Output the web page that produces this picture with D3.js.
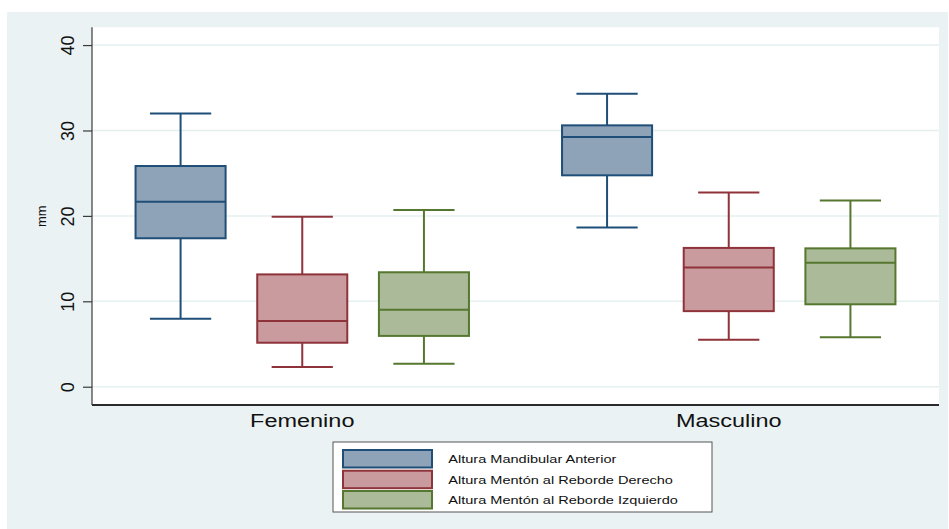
<!DOCTYPE html>
<html>
<head>
<meta charset="utf-8">
<script src="https://cdn.jsdelivr.net/npm/d3@7"></script>
<style>
  html, body { margin: 0; padding: 0; background: #ffffff; }
  svg { display: block; font-family: "Liberation Sans", Arial, Helvetica, sans-serif; }
</style>
</head>
<body>
<svg id="chart" width="949" height="529"></svg>
<script>
// Groups on the x axis
const groups = ["Femenino", "Masculino"];

// Series (one box per series within each group)
const seriesNames = [
  "Altura Mandibular Anterior",
  "Altura Mentón al Reborde Derecho",
  "Altura Mentón al Reborde Izquierdo"
];

// Box statistics per group: [lower whisker, Q1, median, Q3, upper whisker] in mm
const mandibularAnterior = [
  [7.96, 17.38, 21.66, 25.84, 32.0],
  [18.65, 24.75, 29.25, 30.6, 34.3]
];
const rebordeDerecho = [
  [2.3, 5.15, 7.7, 13.15, 19.9],
  [5.5, 8.85, 13.95, 16.25, 22.75]
];
const rebordeIzquierdo = [
  [2.7, 5.95, 9.0, 13.4, 20.7],
  [5.8, 9.65, 14.5, 16.2, 21.8]
];

const yTicks = [0, 10, 20, 30, 40];
const yLabel = "mm";

const seriesValues = [mandibularAnterior, rebordeDerecho, rebordeIzquierdo];
const strokeColors = ["#1f4e78", "#8f333b", "#56772f"];
const fillColors = ["#8ea3b7", "#c99a9e", "#abba98"];

const svg = d3.select("#chart");
const W = 949, H = 529;

// Page background
svg.append("rect").attr("x", 7).attr("y", 12).attr("width", W - 8).attr("height", H - 12)
  .attr("fill", "#eaf2f3");

const plot = { left: 92, right: 939, top: 27.3, bottom: 405 };

// Plot region
svg.append("rect")
  .attr("x", plot.left).attr("y", plot.top)
  .attr("width", plot.right - plot.left).attr("height", plot.bottom - plot.top)
  .attr("fill", "#ffffff");

const y = d3.scaleLinear().domain([-2.14, 42.08]).range([plot.bottom, plot.top]);
const x0 = d3.scalePoint().domain(groups).range([plot.left, plot.right]).padding(0.493);
const x1 = d3.scaleBand().domain(seriesNames).range([-166.7, 166.7]).paddingInner(0.26).paddingOuter(0);

// Grid lines
svg.append("g").selectAll("line").data(yTicks).join("line")
  .attr("x1", plot.left).attr("x2", plot.right)
  .attr("y1", d => y(d)).attr("y2", d => y(d))
  .attr("stroke", "#e6eff0").attr("stroke-width", 1.5);

// Boxes
const boxW = x1.bandwidth();
const capW = boxW * 0.68;
seriesNames.forEach((name, si) => {
  const g = svg.append("g");
  groups.forEach((grp, gi) => {
    const [lo, q1, med, q3, hi] = seriesValues[si][gi];
    const cx = x0(grp) + x1(name) + boxW / 2;
    const col = strokeColors[si];
    // whiskers
    g.append("line").attr("x1", cx).attr("x2", cx).attr("y1", y(q3)).attr("y2", y(hi))
      .attr("stroke", col).attr("stroke-width", 2);
    g.append("line").attr("x1", cx).attr("x2", cx).attr("y1", y(q1)).attr("y2", y(lo))
      .attr("stroke", col).attr("stroke-width", 2);
    // caps
    [lo, hi].forEach(v => {
      g.append("line").attr("x1", cx - capW / 2).attr("x2", cx + capW / 2)
        .attr("y1", y(v)).attr("y2", y(v))
        .attr("stroke", col).attr("stroke-width", 2);
    });
    // box
    g.append("rect").attr("x", cx - boxW / 2).attr("y", y(q3))
      .attr("width", boxW).attr("height", y(q1) - y(q3))
      .attr("fill", fillColors[si]).attr("stroke", col).attr("stroke-width", 2);
    // median
    g.append("line").attr("x1", cx - boxW / 2).attr("x2", cx + boxW / 2)
      .attr("y1", y(med)).attr("y2", y(med))
      .attr("stroke", col).attr("stroke-width", 2);
  });
});

// Y axis
const yAxis = svg.append("g").attr("transform", `translate(${plot.left},0)`)
  .call(d3.axisLeft(y).tickValues(yTicks).tickSize(9).tickFormat(d3.format("d")));
yAxis.select(".domain").attr("stroke", "#3a3a3a").attr("stroke-width", 1.2)
  .attr("d", `M0,${plot.top}V${plot.bottom}`);
yAxis.selectAll(".tick line").attr("stroke", "#3a3a3a").attr("stroke-width", 1.2);
yAxis.selectAll(".tick text")
  .attr("x", null).attr("dy", null)
  .attr("text-anchor", "middle")
  .attr("transform", "translate(-18.5,0) rotate(-90)")
  .attr("font-size", 18).attr("fill", "#111")
  .attr("font-family", "'Liberation Sans', Arial, sans-serif");

svg.append("text")
  .attr("transform", `translate(45.5,${(plot.top + plot.bottom) / 2}) rotate(-90)`)
  .attr("text-anchor", "middle")
  .attr("font-size", 13).attr("fill", "#111")
  .text(yLabel);

// X axis line
svg.append("line").attr("x1", plot.left).attr("x2", plot.right)
  .attr("y1", plot.bottom).attr("y2", plot.bottom)
  .attr("stroke", "#2a2a2a").attr("stroke-width", 1.8);

// Group labels
groups.forEach(grp => {
  svg.append("g").attr("transform", `translate(${x0(grp)},426.5)`)
    .append("text")
    .attr("transform", "scale(1.27,1)")
    .attr("text-anchor", "middle")
    .attr("font-size", 18.5).attr("fill", "#111")
    .text(grp);
});

// Legend
const legend = svg.append("g");
legend.append("rect").attr("x", 333).attr("y", 442).attr("width", 379).attr("height", 70)
  .attr("fill", "#ffffff").attr("stroke", "#555").attr("stroke-width", 1);
const legendY = [450, 470.7, 491];
seriesNames.forEach((name, i) => {
  legend.append("rect").attr("x", 343).attr("y", legendY[i])
    .attr("width", 89).attr("height", 17.5)
    .attr("fill", fillColors[i]).attr("stroke", strokeColors[i]).attr("stroke-width", 2);
  legend.append("g").attr("transform", `translate(448.3,${legendY[i] + 9})`)
    .append("text")
    .attr("transform", "scale(1.3,1)")
    .attr("dominant-baseline", "central")
    .attr("font-size", 11.2).attr("fill", "#111")
    .text(name);
});
</script>
</body>
</html>
